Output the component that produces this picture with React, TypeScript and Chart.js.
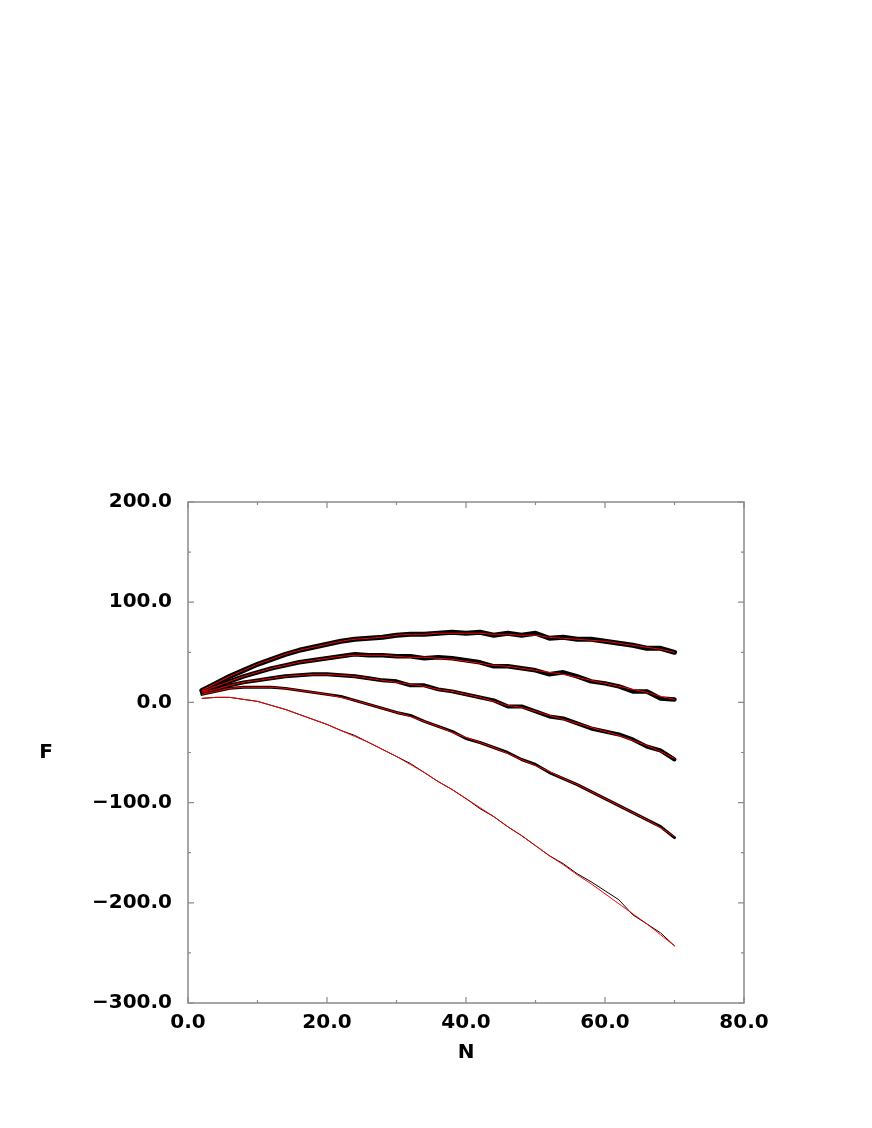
import React, { useEffect, useRef } from "react";
import { Chart, registerables } from "chart.js";

Chart.register(...registerables);

const N = [2, 4, 6, 8, 10, 12, 14, 16, 18, 20, 22, 24, 26, 28, 30, 32, 34, 36, 38, 40, 42, 44, 46, 48, 50, 52, 54, 56, 58, 60, 62, 64, 66, 68, 70];

const simA = [12, 19, 26, 32, 38, 43, 48, 52, 55, 58, 61, 63, 64, 65, 67, 68, 68, 69, 70, 69, 70, 67, 69, 67, 69, 64, 65, 63, 63, 61, 59, 57, 54, 54, 50];
const fitA = [12, 19, 26, 32, 38, 43, 48, 52, 55, 58, 61, 63, 64, 65, 67, 68, 68, 69, 69, 69, 69, 68, 68, 67, 67, 65, 64, 63, 62, 61, 59, 57, 55, 53, 50];

const simB = [11, 16, 21, 26, 30, 34, 37, 40, 42, 44, 46, 48, 47, 47, 46, 46, 44, 45, 44, 42, 40, 36, 36, 34, 32, 28, 30, 26, 21, 19, 16, 11, 11, 4, 3];
const fitB = [11, 16, 21, 26, 30, 34, 37, 40, 42, 44, 46, 47, 47, 47, 46, 45, 45, 44, 43, 41, 39, 37, 36, 34, 32, 30, 28, 25, 22, 19, 16, 13, 10, 6, 3];

const simC = [10, 13, 17, 20, 22, 24, 26, 27, 28, 28, 27, 26, 24, 22, 21, 17, 17, 13, 11, 8, 5, 2, -4, -4, -9, -14, -16, -21, -26, -29, -32, -37, -44, -48, -57];
const fitC = [10, 13, 17, 20, 22, 24, 26, 27, 28, 28, 27, 26, 24, 22, 20, 18, 16, 13, 11, 8, 5, 1, -3, -5, -9, -13, -17, -21, -25, -29, -33, -38, -43, -49, -56];

const simD = [8, 11, 14, 15, 15, 15, 14, 12, 10, 8, 6, 2, -2, -6, -10, -13, -19, -24, -29, -36, -40, -45, -50, -57, -62, -70, -76, -82, -89, -96, -103, -110, -117, -124, -135];
const fitD = [8, 11, 14, 15, 15, 15, 14, 12, 10, 8, 5, 2, -2, -6, -10, -14, -19, -24, -30, -35, -40, -45, -51, -57, -63, -69, -76, -82, -89, -96, -103, -110, -117, -125, -134];

const simE = [4, 5, 5, 3, 1, -3, -7, -12, -17, -22, -28, -33, -40, -47, -54, -61, -70, -79, -87, -96, -106, -114, -124, -133, -143, -153, -161, -171, -179, -188, -197, -212, -221, -230, -243];
const fitE = [4, 5, 5, 3, 1, -3, -7, -12, -17, -22, -28, -34, -40, -47, -54, -62, -70, -79, -87, -96, -105, -114, -124, -133, -143, -153, -162, -172, -181, -191, -201, -211, -221, -232, -243];

const X_MAJOR = [0, 20, 40, 60, 80];
const X_MINOR = [10, 30, 50, 70];
const Y_MAJOR = [-300, -200, -100, 0, 100, 200];
const Y_MINOR = [-250, -150, -50, 50, 150];

const FONT_FAMILY = "'DejaVu Sans', 'Liberation Sans', sans-serif";

function pts(ys: number[]) {
  return N.map((n, i) => ({ x: n, y: ys[i] }));
}

function fmt(v: number) {
  return v < 0 ? "\u2212" + Math.abs(v).toFixed(1) : v.toFixed(1);
}

const framePlugin = {
  id: "frame",
  beforeDatasetsDraw(chart: any) {
    const { ctx, chartArea } = chart;
    const { left, right, top, bottom } = chartArea;
    const xs = chart.scales.x;
    const ys = chart.scales.y;
    ctx.save();
    ctx.strokeStyle = "#8a8a8a";
    ctx.lineWidth = 1.5;
    ctx.strokeRect(left, top, right - left, bottom - top);
    ctx.lineWidth = 1.2;
    const drawX = (v: number, len: number) => {
      const px = xs.getPixelForValue(v);
      ctx.beginPath();
      ctx.moveTo(px, bottom);
      ctx.lineTo(px, bottom - len);
      ctx.moveTo(px, top);
      ctx.lineTo(px, top + len);
      ctx.stroke();
    };
    const drawY = (v: number, len: number) => {
      const py = ys.getPixelForValue(v);
      ctx.beginPath();
      ctx.moveTo(left, py);
      ctx.lineTo(left + len, py);
      ctx.moveTo(right, py);
      ctx.lineTo(right - len, py);
      ctx.stroke();
    };
    X_MAJOR.forEach((v) => drawX(v, 6));
    X_MINOR.forEach((v) => drawX(v, 3));
    Y_MAJOR.forEach((v) => drawY(v, 6));
    Y_MINOR.forEach((v) => drawY(v, 3));

    ctx.fillStyle = "#000";
    ctx.font = `bold 20px ${FONT_FAMILY}`;
    ctx.textAlign = "center";
    ctx.textBaseline = "middle";
    ctx.fillText("N", (left + right) / 2, bottom + 50);
    ctx.fillText("F", left - 142, (top + bottom) / 2);
    ctx.restore();
  },
};

export default function App() {
  const ref = useRef<HTMLCanvasElement | null>(null);

  useEffect(() => {
    if (!ref.current) return;
    const black = (data: number[], w: number) => ({
      data: pts(data),
      borderColor: "#000000",
      borderWidth: w,
      pointRadius: 0,
      tension: 0,
      fill: false,
      borderCapStyle: "round" as const,
      borderJoinStyle: "round" as const,
      order: 2,
    });
    const red = (data: number[]) => ({
      data: pts(data),
      borderColor: "#ff0000",
      borderWidth: 1,
      pointRadius: 0,
      tension: 0.2,
      fill: false,
      order: 1,
    });
    const chart = new Chart(ref.current, {
      type: "line",
      data: {
        datasets: [
          black(simA, 5),
          black(simB, 4.5),
          black(simC, 4),
          black(simD, 3),
          black(simE, 1),
          red(fitA),
          red(fitB),
          red(fitC),
          red(fitD),
          red(fitE),
        ],
      },
      options: {
        responsive: false,
        animation: false,
        layout: { padding: { left: 0, top: 502, right: 128, bottom: 0 } },
        plugins: { legend: { display: false }, tooltip: { enabled: false } },
        scales: {
          x: {
            type: "linear",
            min: 0,
            max: 80,
            grid: { display: false, drawTicks: false },
            border: { display: false },
            ticks: {
              stepSize: 20,
              padding: 8,
              maxRotation: 0,
              color: "#000",
              font: { family: FONT_FAMILY, weight: "bold", size: 20 },
              callback: (v: any) => fmt(Number(v)),
            },
            afterFit: (s: any) => {
              s.height = 125;
            },
          },
          y: {
            type: "linear",
            min: -300,
            max: 200,
            grid: { display: false, drawTicks: false },
            border: { display: false },
            ticks: {
              stepSize: 100,
              padding: 16,
              color: "#000",
              font: { family: FONT_FAMILY, weight: "bold", size: 20 },
              callback: (v: any) => fmt(Number(v)),
            },
            afterFit: (s: any) => {
              s.width = 188;
            },
          },
        },
      },
      plugins: [framePlugin],
    });
    return () => chart.destroy();
  }, []);

  return (
    <div style={{ position: "fixed", left: 0, top: 0, width: 872, height: 1128, background: "#fff" }}>
      <canvas ref={ref} width={872} height={1128} />
    </div>
  );
}
